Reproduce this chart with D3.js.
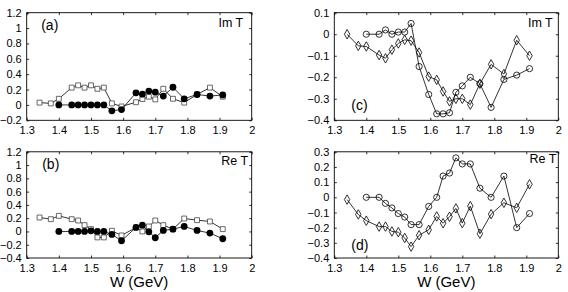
<!DOCTYPE html>
<html>
<head>
<meta charset="utf-8">
<script src="https://cdn.jsdelivr.net/npm/d3@7"></script>
<style>
  body { margin: 0; background: #fff; }
  text { font-family: "Liberation Sans", Arial, Helvetica, sans-serif; fill: #000; }
</style>
</head>
<body>
<div class="chart"></div>
<script>
// W grids (GeV)
var wSquares = [1.34, 1.375, 1.40, 1.44, 1.46, 1.48, 1.50, 1.52, 1.54, 1.565, 1.595, 1.64, 1.66, 1.68, 1.70, 1.725, 1.755, 1.79, 1.83, 1.87, 1.91];
var wDots = [1.40, 1.44, 1.46, 1.48, 1.50, 1.52, 1.54, 1.565, 1.595, 1.64, 1.66, 1.68, 1.70, 1.725, 1.755, 1.79, 1.83, 1.87, 1.91];
var wDiamonds = [1.34, 1.375, 1.40, 1.44, 1.46, 1.48, 1.50, 1.52, 1.54, 1.565, 1.595, 1.62, 1.64, 1.66, 1.68, 1.70, 1.725, 1.755, 1.79, 1.83, 1.87, 1.91];
var wCircles = [1.40, 1.44, 1.46, 1.48, 1.50, 1.52, 1.54, 1.565, 1.595, 1.62, 1.64, 1.66, 1.68, 1.70, 1.725, 1.755, 1.79, 1.83, 1.87, 1.91];

// panel (a) Im T
var imSquares = [0.03, 0.02, 0.08, 0.225, 0.255, 0.225, 0.255, 0.21, 0.225, 0.02, -0.02, 0.035, 0.077, 0.107, 0.072, 0.21, 0.08, 0.03, 0.136, 0.225, 0.107];
var imDots = [0, 0, 0, 0, 0, 0, 0, -0.077, -0.06, 0.157, 0.14, 0.18, 0.166, 0.115, 0.23, 0.08, 0.136, 0.115, 0.13];
// panel (b) Re T
var reSquares = [0.21, 0.185, 0.235, 0.185, 0.165, 0.095, 0.035, -0.09, -0.09, 0.01, -0.06, 0.06, 0, 0.075, 0.165, 0.095, 0.035, 0.195, 0.17, 0.15, 0.035];
var reDots = [0, 0, 0, 0, 0.01, 0, 0, -0.045, -0.14, 0.06, 0.095, -0.005, -0.095, 0.015, 0.035, 0.075, 0.015, -0.025, -0.11];
// panel (c) Im T
var imCircles = [0, 0, 0.02, 0, 0.01, 0.01, 0.05, -0.15, -0.28, -0.37, -0.37, -0.365, -0.27, -0.24, -0.2, -0.23, -0.34, -0.21, -0.19, -0.16];
var imDiamonds = [0, -0.054, -0.057, -0.097, -0.112, -0.072, -0.043, -0.026, -0.03, -0.085, -0.197, -0.212, -0.266, -0.312, -0.3, -0.3, -0.327, -0.23, -0.14, -0.185, -0.028, -0.1];
// panel (d) Re T
var reCircles = [0, 0, -0.04, -0.07, -0.107, -0.13, -0.18, -0.18, -0.06, 0, 0.14, 0.16, 0.26, 0.22, 0.22, 0.06, 0, 0.14, -0.2, -0.107];
var reDiamonds = [-0.015, -0.113, -0.154, -0.193, -0.193, -0.225, -0.23, -0.268, -0.325, -0.25, -0.214, -0.126, -0.171, -0.128, -0.073, -0.17, -0.058, -0.24, -0.111, -0.036, -0.069, 0.086];

var xTicks = [1.3, 1.4, 1.5, 1.6, 1.7, 1.8, 1.9, 2];

var svg = d3.select(".chart").append("svg")
  .attr("width", 568)
  .attr("height", 292);

var fmt = function(d) {
  var s = String(Math.round(d * 10) / 10);
  return s.replace("-", "\u2212");
};

var panels = [
  {x0: 26.7, x1: 251.7, y0: 12.7, y1: 120.3, dom: [-0.2, 1.2], yt: d3.range(-0.2, 1.21, 0.2),
   tag: "(a)", tagX: 14.5, tagY: 17.5, name: "Im T", nameDx: 8.5, nameY: 14,
   series: [{w: wSquares, v: imSquares, m: "square"}, {w: wDots, v: imDots, m: "dot"}]},
  {x0: 26.7, x1: 251.7, y0: 151.8, y1: 258, dom: [-0.4, 1.2], yt: d3.range(-0.4, 1.21, 0.2),
   tag: "(b)", tagX: 15.5, tagY: 17.5, name: "Re T", nameDx: 3.5, nameY: 13,
   series: [{w: wSquares, v: reSquares, m: "square"}, {w: wDots, v: reDots, m: "dot"}], xlabel: true},
  {x0: 334.3, x1: 558.3, y0: 12.7, y1: 120.3, dom: [-0.4, 0.1], yt: d3.range(-0.4, 0.11, 0.1),
   tag: "(c)", tagX: 17, tagY: 97.5, name: "Im T", nameDx: 5.6, nameY: 14,
   series: [{w: wDiamonds, v: imDiamonds, m: "diamond"}, {w: wCircles, v: imCircles, m: "circle"}]},
  {x0: 334.3, x1: 558.3, y0: 151.8, y1: 258, dom: [-0.4, 0.3], yt: d3.range(-0.4, 0.31, 0.1),
   tag: "(d)", tagX: 17, tagY: 98.5, name: "Re T", nameDx: 2, nameY: 11.5,
   series: [{w: wDiamonds, v: reDiamonds, m: "diamond"}, {w: wCircles, v: reCircles, m: "circle"}], xlabel: true}
];

panels.forEach(function(p) {
  var x = d3.scaleLinear().domain([1.3, 2]).range([p.x0, p.x1]);
  var y = d3.scaleLinear().domain(p.dom).range([p.y1, p.y0]);
  var yTicks = p.yt.map(function(t) { return Math.round(t * 10) / 10; });

  // inward ticks on all four sides
  svg.append("g")
    .attr("transform", "translate(0," + p.y1 + ")")
    .call(d3.axisBottom(x).tickValues(xTicks).tickSizeInner(-2.5).tickSizeOuter(0).tickPadding(6).tickFormat(fmt));
  svg.append("g")
    .attr("transform", "translate(0," + p.y0 + ")")
    .call(d3.axisTop(x).tickValues(xTicks).tickSizeInner(-2.5).tickSizeOuter(0).tickFormat(""));
  svg.append("g")
    .attr("transform", "translate(" + p.x0 + ",0)")
    .call(d3.axisLeft(y).tickValues(yTicks).tickSizeInner(-2.5).tickSizeOuter(0).tickPadding(5).tickFormat(fmt));
  svg.append("g")
    .attr("transform", "translate(" + p.x1 + ",0)")
    .call(d3.axisRight(y).tickValues(yTicks).tickSizeInner(-2.5).tickSizeOuter(0).tickFormat(""));

  svg.append("rect")
    .attr("x", p.x0).attr("y", p.y0)
    .attr("width", p.x1 - p.x0).attr("height", p.y1 - p.y0)
    .attr("fill", "none").attr("stroke", "#000").attr("stroke-width", 0.9);

  svg.selectAll(".tick line").attr("stroke", "#000").attr("stroke-width", 0.8);
  svg.selectAll(".tick text").attr("font-size", 11).attr("font-family", "Liberation Sans, Arial, sans-serif");
  svg.selectAll(".domain").remove();

  p.series.forEach(function(s) {
    var pts = s.w.map(function(w, i) { return [w, s.v[i]]; });
    var line = d3.line().x(function(d) { return x(d[0]); }).y(function(d) { return y(d[1]); });
    svg.append("path")
      .datum(pts)
      .attr("d", line)
      .attr("fill", "none")
      .attr("stroke", "#000")
      .attr("stroke-width", 0.8);

    var g = svg.append("g");
    if (s.m === "dot") {
      g.selectAll("circle").data(pts).enter().append("circle")
        .attr("cx", function(d) { return x(d[0]); })
        .attr("cy", function(d) { return y(d[1]); })
        .attr("r", 3.4)
        .attr("fill", "#000");
    } else if (s.m === "circle") {
      g.selectAll("circle").data(pts).enter().append("circle")
        .attr("cx", function(d) { return x(d[0]); })
        .attr("cy", function(d) { return y(d[1]); })
        .attr("r", 3.1)
        .attr("fill", "none")
        .attr("stroke", "#000")
        .attr("stroke-width", 0.8);
    } else {
      var sym = s.m === "square" ? d3.symbolSquare : d3.symbolDiamond;
      var size = s.m === "square" ? 24 : 26;
      g.selectAll("path").data(pts).enter().append("path")
        .attr("d", d3.symbol().type(sym).size(size))
        .attr("transform", function(d) { return "translate(" + x(d[0]) + "," + y(d[1]) + ")"; })
        .attr("fill", s.m === "square" ? "#fff" : "none")
        .attr("stroke", s.m === "square" ? "#444" : "#000")
        .attr("stroke-width", 0.8);
    }
  });

  svg.append("text")
    .attr("x", p.x0 + p.tagX)
    .attr("y", p.y0 + p.tagY)
    .attr("font-size", 14)
    .text(p.tag);

  svg.append("text")
    .attr("x", p.x1 - p.nameDx)
    .attr("y", p.y0 + p.nameY)
    .attr("text-anchor", "end")
    .attr("font-size", 12.5)
    .text(p.name);

  if (p.xlabel) {
    svg.append("text")
      .attr("x", (p.x0 + p.x1) / 2)
      .attr("y", 287)
      .attr("text-anchor", "middle")
      .attr("font-size", 15)
      .text("W (GeV)");
  }
});
</script>
</body>
</html>
